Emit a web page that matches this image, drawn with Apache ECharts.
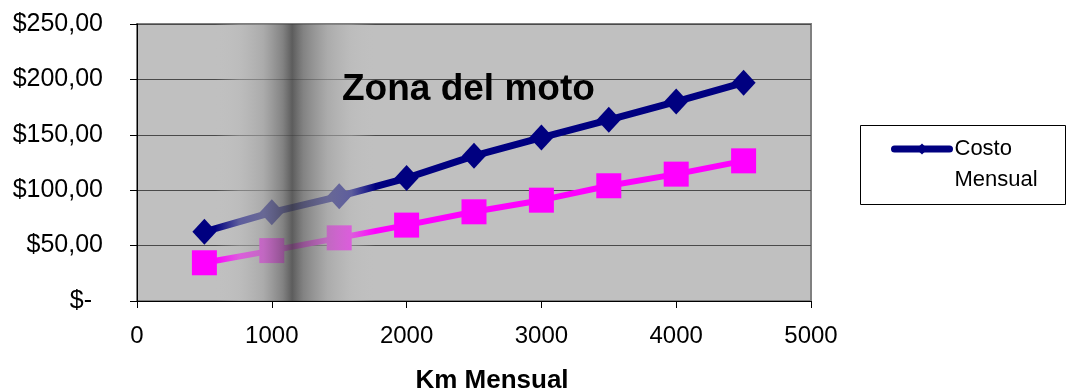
<!DOCTYPE html>
<html>
<head>
<meta charset="utf-8">
<script src="https://cdn.jsdelivr.net/npm/echarts@6/dist/echarts.min.js"></script>
<style>
  html, body { margin: 0; padding: 0; background: #ffffff; }
  #chart { width: 1072px; height: 390px; }
</style>
</head>
<body>
<div id="chart"></div>
<script>
// Kilómetros recorridos por mes
const kmMensual = [500, 1000, 1500, 2000, 2500, 3000, 3500, 4000, 4500];
// Costo mensual (serie azul, con leyenda)
const costoMensual = [62.5, 80, 94.5, 111, 131, 147.5, 163.5, 180, 197];
// Segunda serie (rosa, sin entrada en la leyenda)
const costoSerie2 = [34.5, 45.5, 57, 68.5, 80.5, 91, 104, 114.5, 126.5];
// Franja sombreada: rango de km de la zona
const zonaKm = [580, 1770];
const zonaTexto = 'Zona del moto';
const ejeXTitulo = 'Km Mensual';

const font = 'Arial, "Liberation Sans", sans-serif';

function pares(xs, ys) { return xs.map((x, i) => [x, ys[i]]); }

// Formato contable: cero se muestra como "$-"
function fmtPesos(v) {
  if (v === 0) return '{cero|$-}';
  return '$' + v.toFixed(2).replace('.', ',');
}

const chart = echarts.init(document.getElementById('chart'), null, { renderer: 'canvas' });

chart.setOption({
  animation: false,
  backgroundColor: '#ffffff',
  grid: {
    left: 137, right: 261, top: 24, bottom: 89,
    outerBoundsMode: 'none',
    show: true,
    backgroundColor: '#c0c0c0',
    borderColor: '#808080',
    borderWidth: 2
  },
  xAxis: {
    type: 'value',
    min: 0, max: 5000, interval: 1000,
    name: ejeXTitulo,
    nameLocation: 'middle',
    nameGap: 67,
    nameTextStyle: { fontFamily: font, fontSize: 26, fontWeight: 'bold', color: '#000', padding: [0, 0, 0, 36] },
    axisLine: { show: true, onZero: false, lineStyle: { color: '#000', width: 1 } },
    axisTick: { show: true, inside: false, length: 7, lineStyle: { color: '#000' } },
    axisLabel: { fontFamily: font, fontSize: 24, color: '#000', margin: 23, formatter: v => String(v) },
    splitLine: { show: false }
  },
  yAxis: {
    type: 'value',
    min: 0, max: 250, interval: 50,
    axisLine: { show: true, lineStyle: { color: '#000', width: 1 } },
    axisTick: { show: true, inside: false, length: 7, lineStyle: { color: '#000' } },
    axisLabel: {
      fontFamily: font, fontSize: 25, color: '#000', margin: 34, formatter: fmtPesos,
      rich: { cero: { fontFamily: font, fontSize: 25, color: '#000', padding: [0, 11, 0, 0] } }
    },
    splitLine: { show: true, lineStyle: { color: '#4a4a4a', width: 1 } }
  },
  legend: {
    data: ['Costo Mensual'],
    left: 891, top: 102.5,
    padding: 0,
    itemWidth: 55, itemHeight: 14,
    lineStyle: { width: 7, cap: 'round' },
    formatter: () => ' \nCosto\nMensual',
    textStyle: { fontFamily: font, fontSize: 22, color: '#000', lineHeight: 31 }
  },
  graphic: [
    {
      type: 'rect',
      left: 858, top: 123,
      shape: { width: 205, height: 79 },
      style: { fill: 'none', stroke: '#000', lineWidth: 1 },
      silent: true
    },
    {
      type: 'text',
      left: 342, top: 71,
      z: 20,
      style: { text: zonaTexto, font: 'bold 37px ' + font, fill: '#000' },
      silent: true
    }
  ],
  series: [
    {
      name: 'Costo Mensual',
      type: 'line',
      z: 3,
      data: pares(kmMensual, costoMensual),
      symbol: 'diamond',
      symbolSize: [24, 26],
      lineStyle: { color: '#000080', width: 7 },
      itemStyle: { color: '#000080' },
      emphasis: { disabled: true }
    },
    {
      name: 'Serie 2',
      type: 'line',
      z: 2,
      data: pares(kmMensual, costoSerie2),
      symbol: 'rect',
      symbolSize: 25,
      lineStyle: { color: '#ff00ff', width: 6 },
      itemStyle: { color: '#ff00ff' },
      emphasis: { disabled: true }
    },
    {
      name: 'zona',
      type: 'line',
      data: [],
      silent: true,
      markArea: {
        silent: true,
        z: 10,
        itemStyle: {
          color: {
            type: 'linear', x: 0, y: 0, x2: 1, y2: 0,
            colorStops: [
              { offset: 0, color: 'rgba(192,192,192,0)' },
              { offset: 0.15, color: 'rgba(185,185,185,0.5)' },
              { offset: 0.3, color: 'rgba(160,160,160,0.65)' },
              { offset: 0.42, color: 'rgba(110,110,110,0.75)' },
              { offset: 0.48, color: 'rgba(75,75,75,0.85)' },
              { offset: 0.55, color: 'rgba(110,110,110,0.75)' },
              { offset: 0.7, color: 'rgba(160,160,160,0.65)' },
              { offset: 0.85, color: 'rgba(185,185,185,0.5)' },
              { offset: 1, color: 'rgba(192,192,192,0)' }
            ]
          }
        },
        emphasis: { disabled: true },
        data: [[{ xAxis: zonaKm[0], yAxis: 0 }, { xAxis: zonaKm[1], yAxis: 250 }]]
      }
    }
  ]
});
</script>
</body>
</html>
